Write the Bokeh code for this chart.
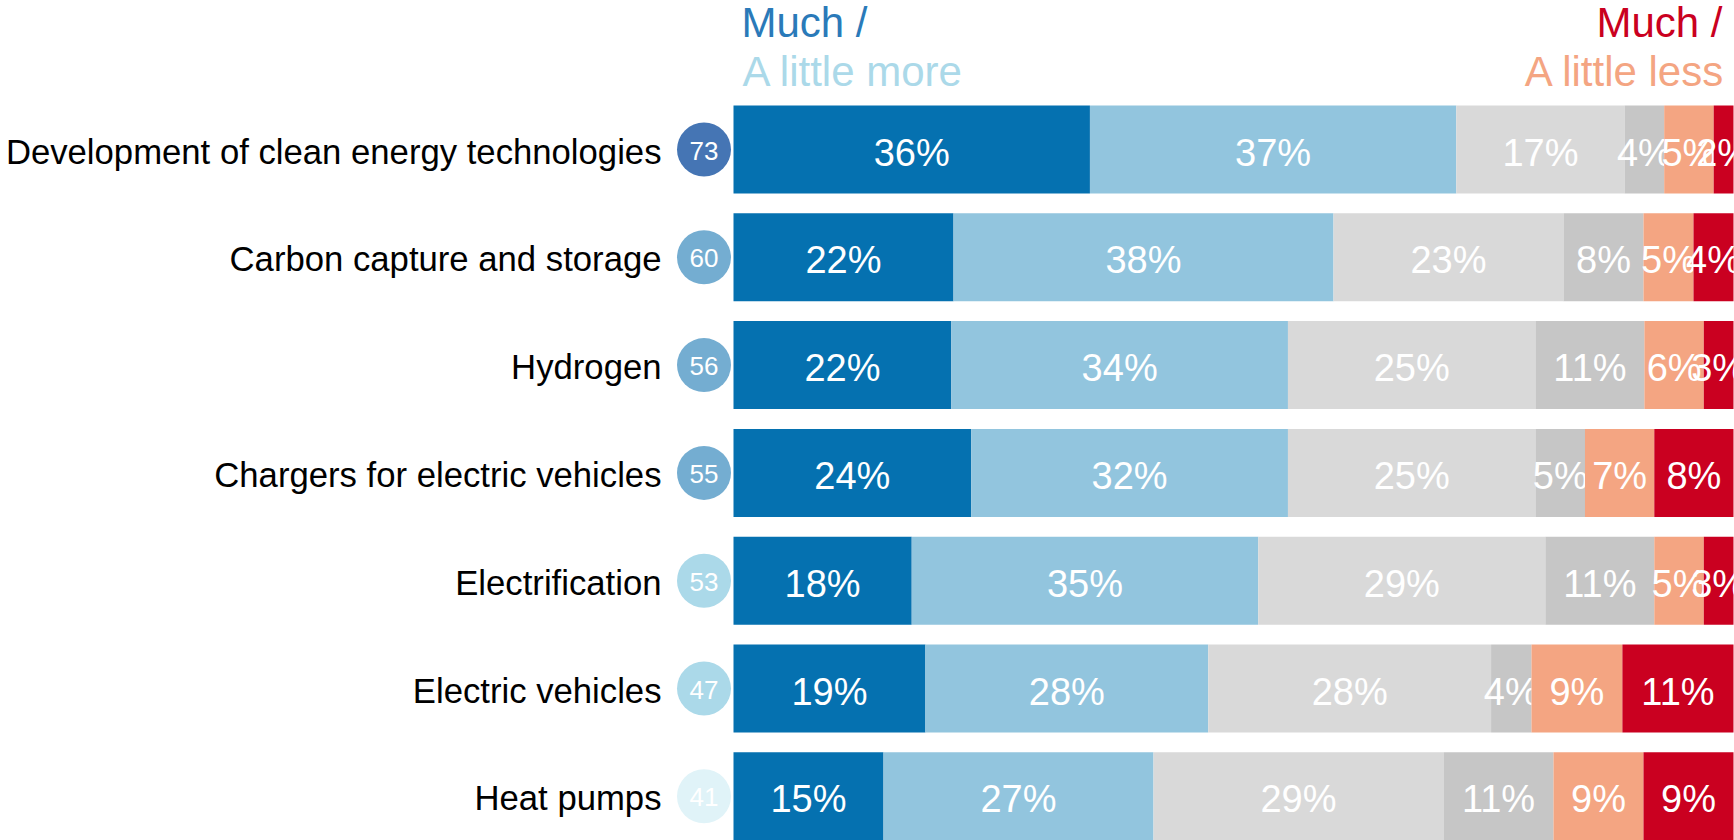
from bokeh.plotting import figure
from bokeh.models import Range1d, Label, ColumnDataSource
from bokeh.core.properties import value
from bokeh.embed import file_html
from bokeh.resources import INLINE

# ---------------- data ----------------
categories = [
    "Development of clean energy technologies",
    "Carbon capture and storage",
    "Hydrogen",
    "Chargers for electric vehicles",
    "Electrification",
    "Electric vehicles",
    "Heat pumps",
]
net_scores = [73, 60, 56, 55, 53, 47, 41]
much_more = [36, 22, 22, 24, 18, 19, 15]
little_more = [37, 38, 34, 32, 35, 28, 27]
no_change = [17, 23, 25, 25, 29, 28, 29]
dont_know = [4, 8, 11, 5, 11, 4, 11]
little_less = [5, 5, 6, 7, 5, 9, 9]
much_less = [2, 4, 3, 8, 3, 11, 9]

# ---------------- style ----------------
series = [much_more, little_more, no_change, dont_know, little_less, much_less]
seg_colors = ["#0571b0", "#92c5de", "#d9d9d9", "#c6c6c6", "#f4a582", "#ca0020"]
circle_colors = ["#4575b4", "#74add1", "#74add1", "#74add1", "#abd9e9", "#abd9e9", "#e0f3f8"]
FONT = "Liberation Sans"

FIG_W, FIG_H = 1734, 840
BAR_X0_PX = 733
BAR_X1_PX = 1733
PX_PER_PCT = (BAR_X1_PX - BAR_X0_PX) / 100.0
ROW_PITCH = 107.8
FIRST_CENTER = 149
BAR_H_PX = 88

y_top = -FIRST_CENTER / ROW_PITCH
y_bot = y_top + FIG_H / ROW_PITCH
x_start = -BAR_X0_PX / PX_PER_PCT
x_end = x_start + FIG_W / PX_PER_PCT

p = figure(width=FIG_W, height=FIG_H,
           x_range=Range1d(x_start, x_end), y_range=Range1d(y_bot, y_top),
           output_backend="svg", toolbar_location=None,
           min_border=0, min_border_left=0, min_border_right=0,
           min_border_top=0, min_border_bottom=0)
p.xaxis.visible = False
p.yaxis.visible = False
p.xgrid.visible = False
p.ygrid.visible = False
p.outline_line_color = None
p.background_fill_color = "white"
p.border_fill_color = "white"

rows = list(range(len(categories)))
totals = [sum(s[i] for s in series) for i in rows]

# stacked segments, each row normalised to its total
cum = [0.0] * len(rows)
for vals, col in zip(series, seg_colors):
    left = [cum[i] for i in rows]
    right = [cum[i] + vals[i] * 100.0 / totals[i] for i in rows]
    mid = [(l + r) / 2 for l, r in zip(left, right)]
    src = ColumnDataSource(dict(y=rows, left=left, right=right, mid=mid,
                                lab=[f"{v}%" for v in vals]))
    p.hbar(y="y", left="left", right="right", height=BAR_H_PX / ROW_PITCH,
           source=src, fill_color=col, line_color=None)
    p.text(x="mid", y="y", text="lab", source=src, y_offset=3,
           text_align="center", text_baseline="middle",
           text_color="white", text_font=value(FONT), text_font_size="38px")
    cum = right

# category labels
lab_x = (661 - BAR_X0_PX) / PX_PER_PCT
p.text(x=[lab_x] * len(rows), y=rows, text=categories, y_offset=2,
       text_align="right", text_baseline="middle",
       text_color="black", text_font=value(FONT), text_font_size="34.7px")

# net score circles
circ_x = (703.5 - BAR_X0_PX) / PX_PER_PCT
p.scatter(x=[circ_x] * len(rows), y=rows, marker="circle", size=54,
          fill_color=circle_colors, line_color=None)
p.text(x=[circ_x] * len(rows), y=rows, text=[str(v) for v in net_scores], y_offset=1,
       text_align="center", text_baseline="middle",
       text_color="white", text_font=value(FONT), text_font_size="26px")

# headers
hdr = dict(text_font=FONT, text_font_size="42px", text_baseline="alphabetic")
p.add_layout(Label(x=0, x_units="data", x_offset=8, y=FIG_H - 22, y_units="screen",
                   text="Much /", text_color="#2a7ab9", text_align="left", **hdr))
p.add_layout(Label(x=0, x_units="data", x_offset=9, y=FIG_H - 71, y_units="screen",
                   text="A little more", text_color="#abd9e9", text_align="left", **hdr))
p.add_layout(Label(x=100, x_units="data", x_offset=-11, y=FIG_H - 22, y_units="screen",
                   text="Much /", text_color="#ca0020", text_align="right", **hdr))
p.add_layout(Label(x=100, x_units="data", x_offset=-8, y=FIG_H - 71, y_units="screen",
                   text="A little less", text_color="#f4a582", text_align="right", **hdr))

open("out.html", "w").write(file_html(p, INLINE))
